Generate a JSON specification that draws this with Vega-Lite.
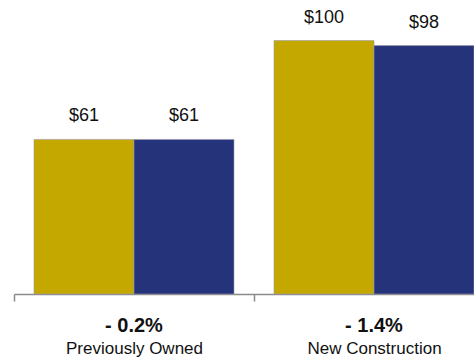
{
  "$schema": "https://vega.github.io/schema/vega-lite/v6.json",
  "width": 480,
  "height": 294,
  "autosize": {"type": "none"},
  "padding": {"left": 14, "top": 0, "right": 0, "bottom": 67},
  "background": "white",
  "config": {"view": {"stroke": null}, "font": "Liberation Sans"},
  "datasets": {
    "bars": [
      {"group": "Previously Owned", "series": "A", "value": 61, "label": "$61"},
      {"group": "Previously Owned", "series": "B", "value": 61, "label": "$61"},
      {"group": "New Construction", "series": "A", "value": 100, "label": "$100"},
      {"group": "New Construction", "series": "B", "value": 98, "label": "$98"}
    ],
    "groups": [
      {"group": "Previously Owned", "pct": "- 0.2%"},
      {"group": "New Construction", "pct": "- 1.4%"}
    ]
  },
  "encoding": {
    "x": {
      "field": "group", "type": "nominal", "sort": ["Previously Owned", "New Construction"],
      "scale": {"paddingInner": 0, "paddingOuter": 0},
      "axis": {
        "title": null, "labelAngle": 0, "domainColor": "#8a8a8a", "domainWidth": 1.5,
        "tickColor": "#8a8a8a", "tickWidth": 1.5, "tickSize": 7, "tickBand": "extent",
        "labelFontSize": 17, "labelColor": "#111111", "labelPadding": 39,
        "labelFont": "Liberation Sans"
      }
    }
  },
  "layer": [
    {
      "data": {"name": "bars"},
      "mark": {"type": "bar", "stroke": "#9a9aa8", "strokeWidth": 0.6},
      "encoding": {
        "xOffset": {"field": "series", "type": "nominal", "scale": {"paddingInner": 0, "paddingOuter": 0.2}},
        "y": {"field": "value", "type": "quantitative", "scale": {"domain": [0, 116], "nice": false}, "axis": null},
        "color": {"field": "series", "type": "nominal", "scale": {"domain": ["A", "B"], "range": ["#c4a800", "#25337a"]}, "legend": null}
      }
    },
    {
      "data": {"name": "bars"},
      "mark": {"type": "text", "baseline": "middle", "dy": -23, "fontSize": 18, "color": "#111111"},
      "encoding": {
        "xOffset": {"field": "series", "type": "nominal"},
        "y": {"field": "value", "type": "quantitative"},
        "text": {"field": "label"}
      }
    },
    {
      "data": {"name": "groups"},
      "mark": {"type": "text", "baseline": "middle", "dy": 32, "fontSize": 20, "fontWeight": "bold", "color": "#111111"},
      "encoding": {
        "y": {"datum": 0, "type": "quantitative"},
        "text": {"field": "pct"}
      }
    }
  ]
}
